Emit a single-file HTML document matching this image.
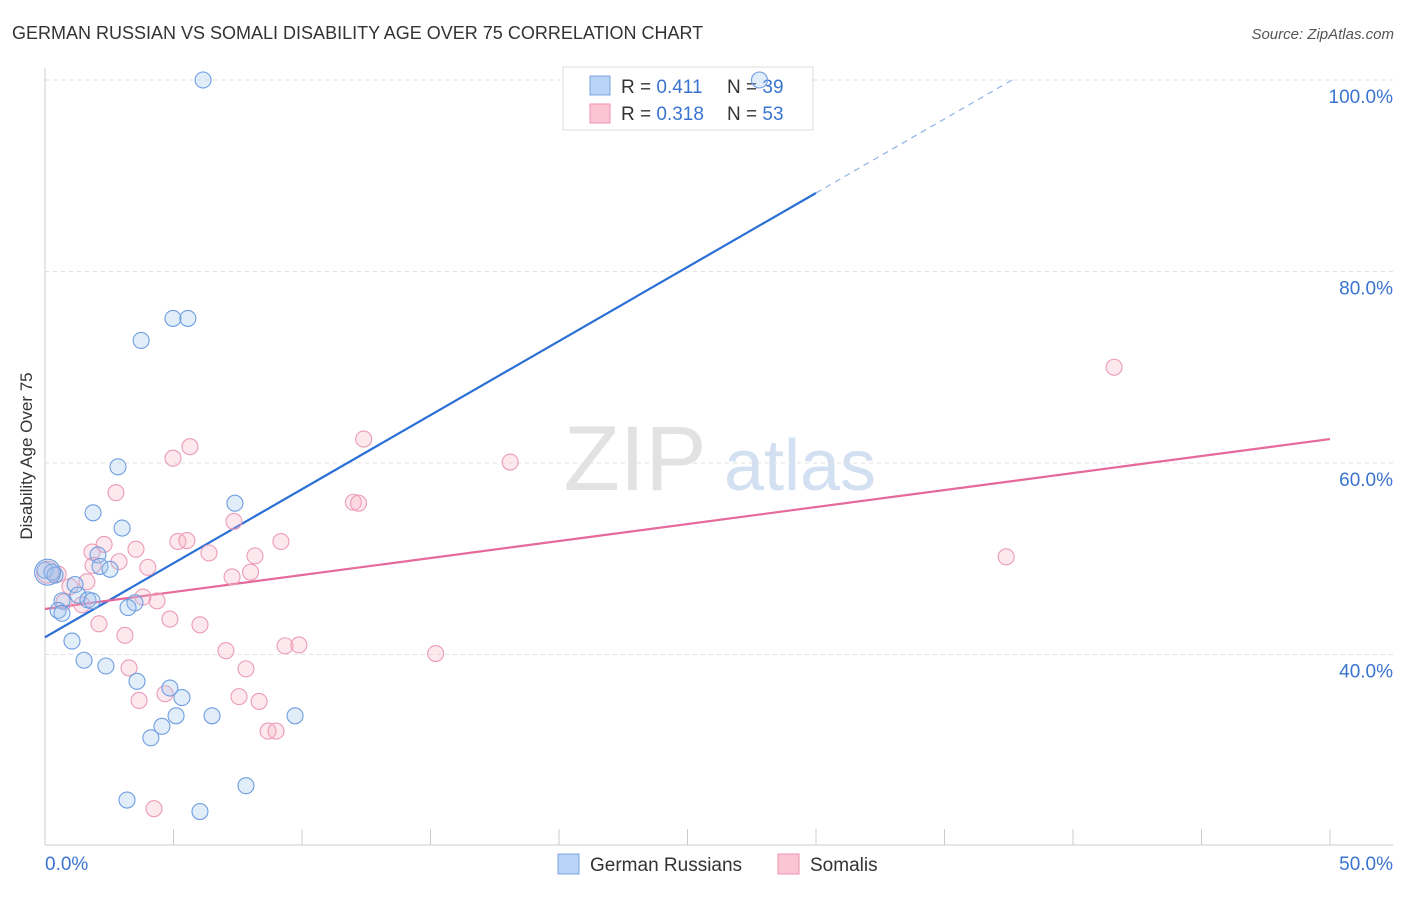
<!DOCTYPE html>
<html><head><meta charset="utf-8"><style>
body{margin:0;background:#fff;font-family:"Liberation Sans",sans-serif;}
svg text{font-family:"Liberation Sans",sans-serif;}
</style></head><body>
<svg id="chart" width="1406" height="892">
<text x="12" y="39" font-size="18" fill="#333">GERMAN RUSSIAN VS SOMALI DISABILITY AGE OVER 75 CORRELATION CHART</text>
<text x="1394" y="39" font-size="15" fill="#555" font-style="italic" text-anchor="end">Source: ZipAtlas.com</text>
<text x="32" y="456" font-size="17" fill="#333" text-anchor="middle" transform="rotate(-90 32 456)">Disability Age Over 75</text>
<g><text x="635" y="490" font-size="92" fill="#e2e2e2" font-family="Liberation Serif" text-anchor="middle">ZIP</text><text x="800" y="490" font-size="72" fill="#d3e0f2" text-anchor="middle">atlas</text></g>
<g id="grid"></g><g id="axes"></g><g id="lines"></g>
<g>
<rect x="563" y="67" width="250" height="63" fill="#fff" stroke="#ddd"/>
<rect x="590" y="76" width="20" height="19" fill="#b8d3f5" stroke="#7aa6e0"/>
<rect x="590" y="104" width="20" height="19" fill="#fcc5d5" stroke="#ee92ad"/>
<text x="621" y="93" font-size="19" fill="#333">R = <tspan fill="#3a74d0">0.411</tspan></text>
<text x="727" y="93" font-size="19" fill="#333">N = <tspan fill="#3a74d0">39</tspan></text>
<text x="621" y="120" font-size="19" fill="#333">R = <tspan fill="#3a74d0">0.318</tspan></text>
<text x="727" y="120" font-size="19" fill="#333">N = <tspan fill="#3a74d0">53</tspan></text>
</g>
<g id="pts"></g>
<g>
<rect x="558" y="854" width="21" height="20" fill="#b8d3f5" stroke="#7aa6e0"/>
<text x="590" y="871" font-size="19" fill="#333">German Russians</text>
<rect x="778" y="854" width="21" height="20" fill="#fcc5d5" stroke="#ee92ad"/>
<text x="810" y="871" font-size="19" fill="#333">Somalis</text>
</g>
</svg>
<script>
const xTicks=[0,50];
const yTicks=[40,60,80,100];
const blueX=[6.15,27.8,4.98,5.56,3.74,2.84,7.39,1.87,3.0,2.06,2.14,2.53,0,0.27,0.39,1.17,1.28,1.67,1.83,0.66,3.5,3.23,0.51,0.66,1.05,1.52,2.37,3.58,4.86,5.33,5.1,6.5,9.73,4.55,4.12,7.82,3.19,6.03,0.1];
const blueY=[100,100,75.1,75.1,72.8,59.6,55.8,54.8,53.2,50.4,49.2,48.9,48.8,48.6,48.3,47.3,46.2,45.7,45.6,45.6,45.4,44.9,44.6,44.3,41.4,39.4,38.8,37.2,36.5,35.5,33.6,33.6,33.6,32.5,31.3,26.3,24.8,23.6,48.6];
const pinkX=[41.6,18.1,12.4,5.64,4.98,2.76,12.0,12.2,7.35,5.17,5.52,9.18,2.3,3.54,1.83,6.38,8.17,37.4,2.88,1.87,4.0,0.51,7.28,8.0,1.63,0.97,3.81,4.36,0.74,1.44,4.86,2.1,6.03,3.11,15.2,9.34,9.88,7.04,3.27,7.82,4.67,3.66,7.55,8.33,8.68,8.99,4.24,0.1];
const pinkY=[70.0,60.1,62.5,61.7,60.5,56.9,55.9,55.8,53.9,51.8,51.9,51.8,51.5,51.0,50.7,50.6,50.3,50.2,49.7,49.3,49.1,48.4,48.1,48.6,47.6,47.1,46.0,45.6,45.5,45.2,43.7,43.2,43.1,42.0,40.1,40.9,41.0,40.4,38.6,38.5,35.9,35.2,35.6,35.1,32.0,32.0,23.9,48.6];
const blueFit=[41.8,88.2]; // y at x=0, x=30
const pinkFit=[44.75,62.5]; // y at x=0, x=50
const NS='http://www.w3.org/2000/svg';
const X=v=>45+v*25.7, Y=v=>1037.5-v*9.575;
function mk(tag,attrs,parent){const e=document.createElementNS(NS,tag);for(const k in attrs)e.setAttribute(k,attrs[k]);document.getElementById(parent).appendChild(e);return e;}
yTicks.forEach(t=>{
 const l=mk('line',{x1:45,x2:1393,y1:Y(t),y2:Y(t),stroke:'#e2e2e2','stroke-dasharray':'4,4'},'grid');
 
 
 const tx=mk('text',{x:1393,y:Y(t)+23,'font-size':19,fill:'#3a74d0','text-anchor':'end'},'grid');tx.textContent=t.toFixed(1)+'%';
 
 
});
mk('line',{x1:45,x2:45,y1:68,y2:845,stroke:'#ccc'},'axes');
mk('line',{x1:45,x2:1393,y1:845,y2:845,stroke:'#ccc'},'axes');
for(let i=0;i<=10;i++){mk('line',{x1:X(i*5),x2:X(i*5),y1:829,y2:845,stroke:'#ccc'},'axes');}
xTicks.forEach((t,i)=>{const tx=mk('text',{x:i?1393:45,y:870,'font-size':19,fill:'#3a74d0','text-anchor':i?'end':'start'},'axes');tx.textContent=t.toFixed(1)+'%';
 
 });
const bs=(blueFit[1]-blueFit[0])/30;
const bx100=(100-blueFit[0])/bs;
let l1=mk('line',{x1:X(0),y1:Y(blueFit[0]),x2:X(30),y2:Y(blueFit[1]),stroke:'#2a6fd6','stroke-width':2.2},'lines');


let l2=mk('line',{x1:X(30),y1:Y(blueFit[1]),x2:X(bx100),y2:Y(100),stroke:'#8fb2e6','stroke-width':1.2,'stroke-dasharray':'6,5'},'lines');


let l3=mk('line',{x1:X(0),y1:Y(pinkFit[0]),x2:X(50),y2:Y(pinkFit[1]),stroke:'#e5699a','stroke-width':2.2},'lines');


pinkX.forEach((v,i)=>{const c=mk('circle',{cx:X(v),cy:Y(pinkY[i]),r:i==pinkX.length-1?11:8,fill:'rgba(250,180,200,0.3)',stroke:'#eb9bb5','stroke-width':1.1},'pts');
 
 });
blueX.forEach((v,i)=>{const c=mk('circle',{cx:X(v),cy:Y(blueY[i]),r:i==blueX.length-1?13:8,fill:'rgba(160,195,240,0.3)',stroke:'#6e9ee0','stroke-width':1.1},'pts');
 
 });
</script>
</body></html>
